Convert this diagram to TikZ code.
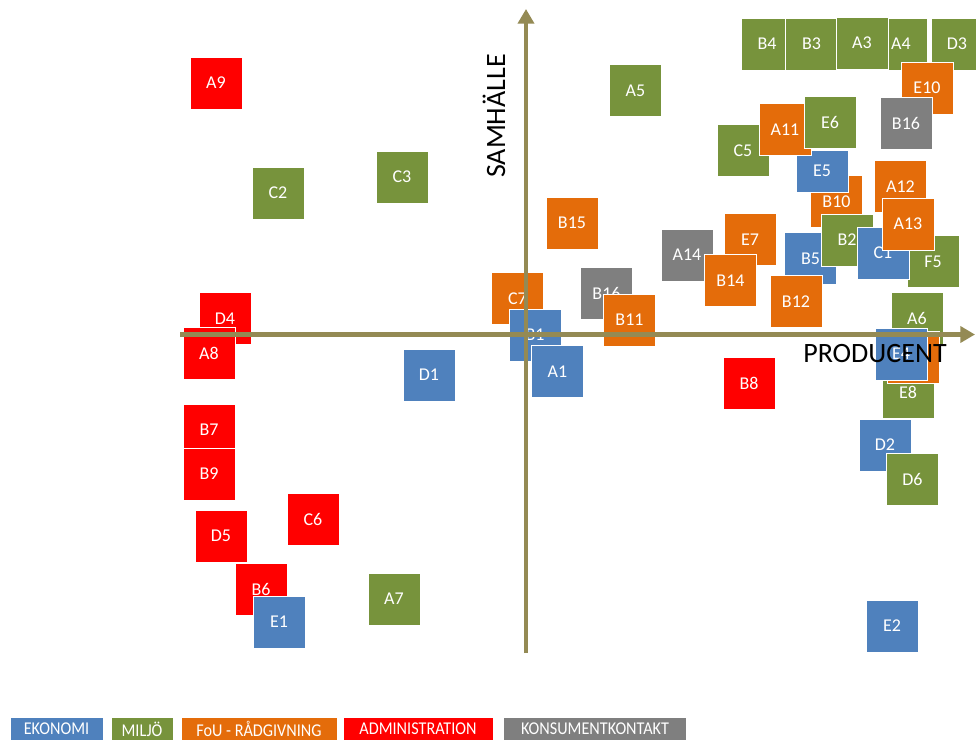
\documentclass[tikz,border=0pt]{standalone}
\usepackage{fontspec}
\setmainfont{Carlito}
\newfontfamily\legfont{Carlito}[FakeStretch=0.9]
\usetikzlibrary{arrows.meta}
\definecolor{cblue}{HTML}{4F81BD}
\definecolor{cgreen}{HTML}{77933C}
\definecolor{corange}{HTML}{E46C0A}
\definecolor{cred}{HTML}{FF0000}
\definecolor{cgray}{HTML}{7F7F7F}
\definecolor{caxis}{HTML}{948A54}
\newcommand\mybox[5][]{\node[box,fill=#2,#1] (#3) at (#4) {#5};}
\begin{document}
\begin{tikzpicture}[x=0.75pt,y=-0.75pt,
  box/.style={draw=white,line width=0.75pt,minimum size=39pt,inner sep=0pt,
    text=white,font=\fontsize{13.5}{15}\selectfont},
  axisline/.style={draw=caxis,line width=3.4pt,-{Triangle[length=11pt,width=12pt]}},
  leg/.style={draw=white,line width=0.75pt,minimum height=18pt,inner sep=0pt,
    text=white,font=\legfont\fontsize{13.5}{15}\selectfont},
  axlabel/.style={text=black,inner sep=0pt,font=\fontsize{21}{24}\selectfont}]
\useasboundingbox (0,0) rectangle (976,740);
\fill[white] (0,0) rectangle (976,740);
% top row
\mybox{cgreen}{B4}{767,44}{B4}
\mybox{cgreen}{B3}{811.5,44}{B3}
\mybox{cgreen}{A4}{901,44}{A4}
\mybox{cgreen}{A3}{862,43}{A3}
\mybox{cgreen}{D3}{957,44}{D3}
\mybox{corange}{E10}{927,88}{E10}
\mybox{cgray}{B16a}{906,123.5}{B16}
\mybox{cgreen}{A5}{635.5,90.5}{A5}
% right cluster
\mybox{cgreen}{C5}{743,150.5}{C5}
\mybox{corange}{B10}{836.5,201.5}{B10}
\mybox[minimum height=31.5pt]{cblue}{E5}{822,171}{E5}
\mybox{corange}{A11}{785,129.5}{A11}
\mybox{cgreen}{E6}{830,122}{E6}
\mybox{cblue}{B5}{810.5,258.5}{B5}
\mybox{cgreen}{B2}{847,240}{B2}
\mybox{cgreen}{F5}{933,261.5}{F5}
\mybox{cblue}{C1}{883,253}{C1}
\mybox{corange}{A12}{900.5,186.5}{A12}
\mybox{corange}{A13}{908,224}{A13}
\mybox{cgray}{A14}{687,255}{A14}
\mybox{corange}{E7}{750,239.5}{E7}
\mybox{corange}{B14}{730.5,280.5}{B14}
\mybox{corange}{B12}{796,301.5}{B12}
\mybox{cgreen}{E8}{908,392}{E8}
\mybox{cgreen}{A6}{917,318}{A6}
\mybox{corange}{X1}{913,357}{}
\mybox{cblue}{E4}{901,354}{E4}
\mybox{cblue}{D2}{885,445}{D2}
\mybox{cgreen}{D6}{912.5,479.5}{D6}
\mybox{cblue}{E2}{892,626}{E2}
\mybox{cred}{B8}{749,383}{B8}
% centre
\mybox{corange}{B15}{572,223}{B15}
\mybox{corange}{C7}{517.5,298.5}{C7}
\mybox{cblue}{B1}{535,335}{B1}
\mybox{cblue}{A1}{557.5,371.5}{A1}
\mybox{cgray}{B16b}{606.5,293.5}{B16}
\mybox{corange}{B11}{629.5,320}{B11}
\mybox{cblue}{D1}{429,375}{D1}
% left
\mybox{cgreen}{C3}{402,177}{C3}
\mybox{cgreen}{C2}{278,193}{C2}
\mybox{cred}{A9}{216,83}{A9}
\mybox{cred}{D4}{225,318.5}{D4}
\mybox{cred}{A8}{209,353}{A8}
\mybox{cred}{B7}{209,430}{B7}
\mybox{cred}{B9}{209,474}{B9}
\mybox{cred}{D5}{221,536}{D5}
\mybox{cred}{C6}{313,519}{C6}
\mybox{cred}{B6}{261,589}{B6}
\mybox{cblue}{E1}{279,622}{E1}
\mybox{cgreen}{A7}{394,599}{A7}
% axes
\coordinate (vb) at (526,653);
\coordinate (vt) at (526,9);
\coordinate (hl) at (180,334.5);
\coordinate (hr) at (975,334.5);
\draw[axisline] (vb) -- (vt);
\draw[axisline] (hl) -- (hr);
\node[axlabel] (prod) at (875,354) {PRODUCENT};
\node[axlabel,rotate=90] (samh) at (494,116) {SAMHÄLLE};
% legend
\node[leg,fill=cblue,minimum width=69.75pt] (L1) at (56.5,729) {EKONOMI};
\node[leg,fill=cgreen,minimum width=46.5pt] (L2) at (142,729) {MILJÖ};
\node[leg,fill=corange,minimum width=117pt] (L3) at (259,729) {FoU - RÅDGIVNING};
\node[leg,fill=cred,minimum width=112.5pt] (L4) at (418,729) {ADMINISTRATION};
\node[leg,fill=cgray,minimum width=137.25pt] (L5) at (595,729) {KONSUMENTKONTAKT};
\end{tikzpicture}
\end{document}
